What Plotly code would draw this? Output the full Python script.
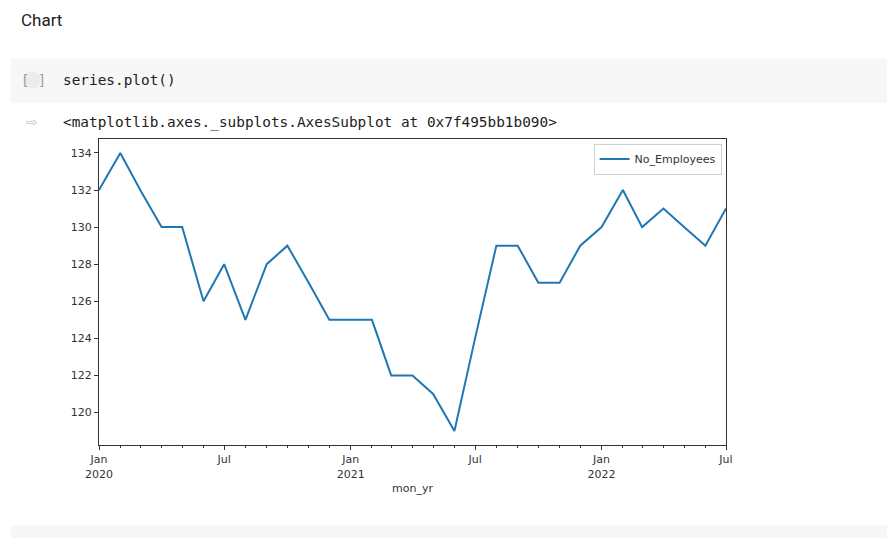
import plotly.graph_objects as go
import pandas as pd

# ---- data ----
months = pd.date_range("2020-01-01", "2022-07-01", freq="MS")
no_employees = [132, 134, 132, 130, 130, 126, 128, 125, 128, 129, 127, 125,
                125, 125, 122, 122, 121, 119, 124, 129, 129, 127, 127, 129,
                130, 132, 130, 131, 130, 129, 131]
tick_dates = ["2020-01-01", "2020-07-01", "2021-01-01", "2021-07-01", "2022-01-01", "2022-07-01"]
tick_labels = ["Jan<br>2020", "Jul", "Jan<br>2021", "Jul", "Jan<br>2022", "Jul"]
y_ticks = [120, 122, 124, 126, 128, 130, 132, 134]

# page body has an 8px margin, so the figure is drawn offset by 8px
OFF = 8
W, H = 895 - OFF, 538 - OFF
L, R, T, B = 99 - OFF, 726 - OFF, 139 - OFF, 445 - OFF


def px(x):
    return (x - OFF - L) / (R - L)


def py(y):
    return (B - (y - OFF)) / (B - T)


fig = go.Figure()
fig.add_trace(go.Scatter(
    x=months, y=no_employees, mode="lines", name="No_Employees",
    line=dict(color="#1f77b4", width=2),
))

axis_font = dict(family="DejaVu Sans", size=11, color="#333333")
fig.update_layout(
    width=W, height=H,
    margin=dict(l=L, r=W - R, t=T, b=H - B, pad=0),
    paper_bgcolor="white", plot_bgcolor="white",
    showlegend=True,
    legend=dict(x=0.993, y=0.985, xanchor="right", yanchor="top",
                bgcolor="white", bordercolor="#d0d0d0", borderwidth=1,
                font=dict(family="DejaVu Sans", size=11, color="#333333"),
                itemwidth=30, tracegroupgap=0),
    xaxis=dict(
        type="date", range=["2020-01-01", "2022-07-01"],
        tickvals=tick_dates, ticktext=tick_labels,
        ticks="outside", ticklen=4, tickwidth=1, tickcolor="#333333",
        minor=dict(dtick="M1", tick0="2020-01-01", ticks="outside", ticklen=2,
                   tickwidth=1, tickcolor="#333333", showgrid=False),
        showgrid=False, zeroline=False,
        showline=True, linecolor="#333333", linewidth=1, mirror=True,
        tickfont=axis_font,
        title=dict(text="mon_yr", font=axis_font, standoff=4),
    ),
    yaxis=dict(
        range=[118.25, 134.75], tickvals=y_ticks,
        ticks="outside", ticklen=4, tickwidth=1, tickcolor="#333333",
        showgrid=False, zeroline=False,
        showline=True, linecolor="#333333", linewidth=1, mirror=True,
        tickfont=axis_font,
    ),
    hovermode=False,
)

shapes = [
    # code cell background
    dict(type="rect", xref="paper", yref="paper", x0=px(11), x1=px(895), y0=py(59), y1=py(103),
         fillcolor="#f7f7f7", line=dict(width=0), layer="below"),
    # run button circle
    dict(type="circle", xref="paper", yref="paper", x0=px(23), x1=px(41), y0=py(71), y1=py(89),
         fillcolor="#ececec", line=dict(width=0), layer="below"),
    # bottom strip
    dict(type="rect", xref="paper", yref="paper", x0=px(11), x1=px(895), y0=py(525), y1=py(538),
         fillcolor="#f7f7f7", line=dict(width=0), layer="below"),
]
fig.update_layout(shapes=shapes)

mono = "DejaVu Sans Mono"
annotations = [
    dict(text="Chart", x=px(19), y=py(20), xref="paper", yref="paper", xanchor="left", yanchor="middle",
         showarrow=False, font=dict(family="Roboto", size=17, color="#212121")),
    dict(text="[ ]", x=px(19), y=py(80), xref="paper", yref="paper", xanchor="left", yanchor="middle",
         showarrow=False, font=dict(family=mono, size=14, color="#9e9e9e")),
    dict(text="series.plot()", x=px(61), y=py(80), xref="paper", yref="paper", xanchor="left", yanchor="middle",
         showarrow=False, font=dict(family=mono, size=14.4, color="#212121")),
    dict(text="⇨", x=px(24), y=py(122), xref="paper", yref="paper", xanchor="left", yanchor="middle",
         showarrow=False, font=dict(family="DejaVu Sans", size=14, color="#c8c8c8")),
    dict(text="&lt;matplotlib.axes._subplots.AxesSubplot at 0x7f495bb1b090&gt;", x=px(61), y=py(122),
         xref="paper", yref="paper", xanchor="left", yanchor="middle",
         showarrow=False, font=dict(family=mono, size=14.4, color="#212121")),
]
fig.update_layout(annotations=annotations)

fig.write_html("out.html")
